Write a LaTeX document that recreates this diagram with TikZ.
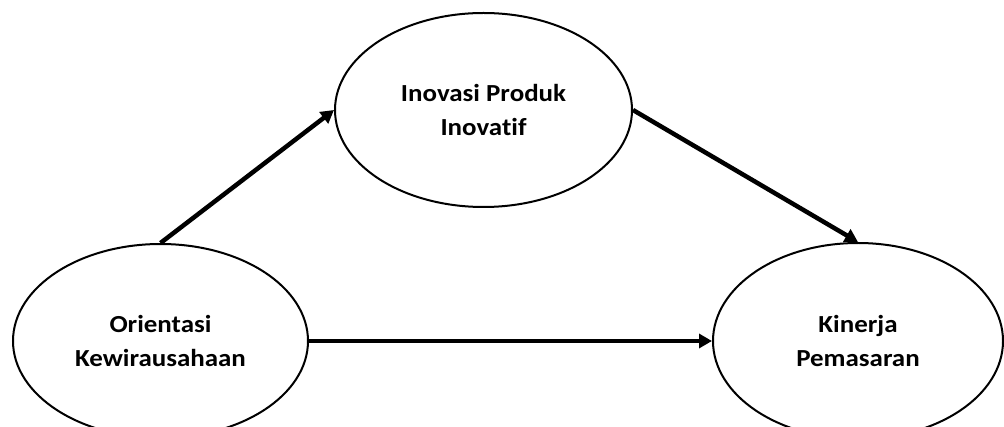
\documentclass[tikz,border=0pt]{standalone}
\usepackage{fontspec}
\setmainfont{Carlito}[FakeStretch=1.10,Ligatures=NoCommon]
\usetikzlibrary{arrows.meta,shapes.geometric}
\begin{document}
\begin{tikzpicture}[x=1pt,y=-1pt,
  construct/.style={ellipse,draw,line width=2pt,inner sep=0pt,align=center,
    font=\fontsize{24.5}{33.5}\selectfont\bfseries},
  link/.style={line width=4.5pt,-{Triangle[length=13pt,width=14pt]}}]
\useasboundingbox[fill=white] (0,0) rectangle (1004,427);
\node[construct,minimum width=297pt,minimum height=194pt] (T) at (483.5,110) {Inovasi Produk\\Inovatif};
\node[construct,minimum width=295pt,minimum height=194pt] (L) at (160.5,341) {Orientasi\\Kewirausahaan};
\node[construct,minimum width=290pt,minimum height=196pt] (R) at (858,341) {Kinerja\\Pemasaran};
\draw[link] (L.north) -- (T.west);
\draw[link] (T.east) -- (R.north);
\draw[link] (L.east) -- (R.west);
\end{tikzpicture}
\end{document}
